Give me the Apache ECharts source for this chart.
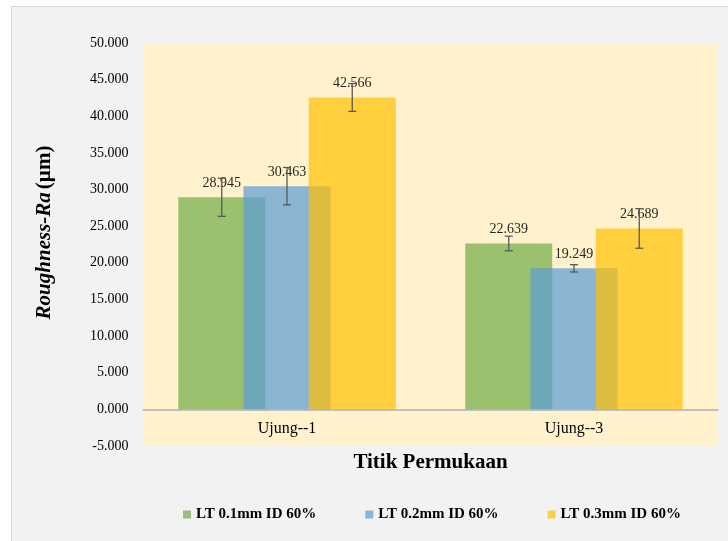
<!DOCTYPE html>
<html>
<head>
<meta charset="utf-8">
<script src="https://cdn.jsdelivr.net/npm/echarts@6/dist/echarts.min.js"></script>
<style>
  html, body { margin: 0; padding: 0; background: #ffffff; }
  #panel { position: absolute; left: 11px; top: 6px; width: 730px; height: 540px; background: #f2f2f2; border: 1px solid #d9d9d9; box-sizing: border-box; }
  #chart { position: absolute; left: 0; top: 0; width: 728px; height: 541px; }
</style>
</head>
<body>
<div id="panel"></div>
<div id="chart"></div>
<script>
const categories = ['Ujung--1', 'Ujung--3'];
const seriesNames = ['LT 0.1mm ID 60%', 'LT 0.2mm ID 60%', 'LT 0.3mm ID 60%'];
const valuesLT01 = [28.945, 22.639];
const valuesLT02 = [30.463, 19.249];
const valuesLT03 = [42.566, 24.689];
const errorsLT01 = [2.6, 1.0];
const errorsLT02 = [2.55, 0.5];
const errorsLT03 = [1.9, 2.7];
const yTicks = { min: -5, max: 50, interval: 5 };

const colors = ['#70ad47', '#5b9bd5', '#ffc000'];
const FONT = "'Liberation Serif', 'Times New Roman', serif";
const BAR_W = 87;
const BAR_GAP = -0.25;

const allValues = [valuesLT01, valuesLT02, valuesLT03];
const allErrors = [errorsLT01, errorsLT02, errorsLT03];

const chart = echarts.init(document.getElementById('chart'), null, { renderer: 'canvas' });

const barSeries = allValues.map((vals, i) => ({
  name: seriesNames[i],
  type: 'bar',
  data: vals,
  barWidth: BAR_W,
  barGap: (BAR_GAP * 100) + '%',
  itemStyle: { color: colors[i], opacity: 0.7 },
  label: {
    show: true,
    position: 'top',
    distance: 7,
    color: '#262626',
    opacity: 1,
    fontFamily: FONT,
    fontSize: 14,
    formatter: p => p.value.toFixed(3)
  },
  z: 2
}));

const errorSeries = allValues.map((vals, i) => ({
  type: 'custom',
  name: seriesNames[i] + ' err',
  data: vals.map((v, j) => [j, v - allErrors[i][j], v + allErrors[i][j]]),
  z: 10,
  silent: true,
  renderItem: function (params, api) {
    const idx = api.value(0);
    const lo = api.coord([idx, api.value(1)]);
    const hi = api.coord([idx, api.value(2)]);
    const offset = (i - 1) * BAR_W * (1 + BAR_GAP);
    const x = lo[0] + offset;
    const cap = 4;
    const style = { stroke: '#595959', lineWidth: 1.3 };
    return {
      type: 'group',
      children: [
        { type: 'line', shape: { x1: x, y1: lo[1], x2: x, y2: hi[1] }, style: style },
        { type: 'line', shape: { x1: x - cap, y1: lo[1], x2: x + cap, y2: lo[1] }, style: style },
        { type: 'line', shape: { x1: x - cap, y1: hi[1], x2: x + cap, y2: hi[1] }, style: style }
      ]
    };
  }
}));

const option = {
  backgroundColor: 'transparent',
  animation: false,
  textStyle: { fontFamily: FONT },
  grid: {
    left: 143.5, right: 10.5, top: 43, bottom: 95,
    show: true, backgroundColor: '#fff2cc', borderWidth: 0
  },
  legend: {
    data: seriesNames,
    left: 178,
    top: 502,
    itemWidth: 8,
    itemHeight: 8,
    itemGap: 49,
    icon: 'rect',
    textStyle: { fontFamily: FONT, fontSize: 15, fontWeight: 'bold', color: '#000000' }
  },
  xAxis: {
    type: 'category',
    data: categories,
    name: 'Titik Permukaan',
    nameLocation: 'middle',
    nameGap: 6,
    nameTextStyle: { fontFamily: FONT, fontSize: 21, fontWeight: 'bold', color: '#000000' },
    axisLine: { show: true, onZero: true, lineStyle: { color: '#bfbfbf', width: 2 } },
    axisTick: { show: false },
    axisLabel: { margin: -25, fontFamily: FONT, fontSize: 16, color: '#000000' }
  },
  yAxis: {
    type: 'value',
    min: yTicks.min,
    max: yTicks.max,
    interval: yTicks.interval,
    name: '{i|Roughness-Ra} {n|(µm)}',
    nameLocation: 'middle',
    nameGap: 88,
    nameRotate: 90,
    nameTextStyle: {
      padding: [0, 0, 0, 24],
      rich: {
        i: { fontFamily: FONT, fontSize: 21, fontWeight: 'bold', fontStyle: 'italic', color: '#000000' },
        n: { fontFamily: FONT, fontSize: 21, fontWeight: 'bold', color: '#000000' }
      }
    },
    axisLine: { show: false },
    axisTick: { show: false },
    splitLine: { show: false },
    axisLabel: {
      margin: 15,
      fontFamily: FONT,
      fontSize: 14,
      color: '#000000',
      formatter: v => v.toFixed(3)
    }
  },
  series: barSeries.concat(errorSeries)
};

chart.setOption(option);
</script>
</body>
</html>
